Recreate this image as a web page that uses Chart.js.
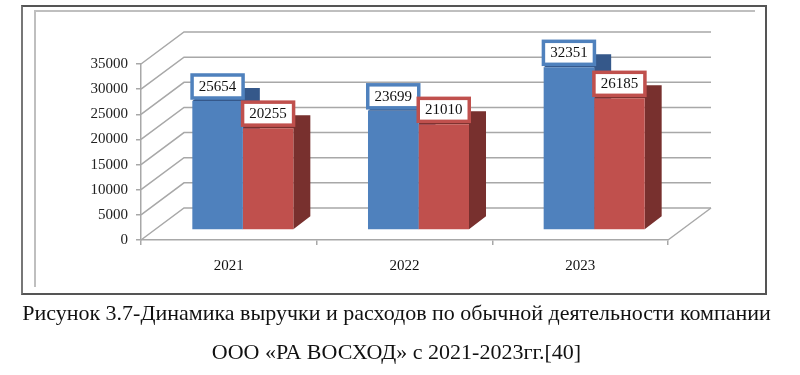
<!DOCTYPE html>
<html lang="ru">
<head>
<meta charset="utf-8">
<title>Рисунок 3.7</title>
<script src="https://cdn.jsdelivr.net/npm/chart.js@4"></script>
<style>
    html, body { margin: 0; padding: 0; background: #fff; }
    #wrap { position: relative; width: 800px; height: 375px; overflow: hidden; }
    #wrap canvas { position: absolute; left: 0; top: 0; }
    #outerFrame { position: absolute; left: 21px; top: 5px; width: 742px; height: 286px; border: 2px solid #555; border-left-color: #777; box-sizing: content-box; }
    #innerFrame { position: absolute; left: 34px; top: 10px; width: 719px; height: 275px; border-top: 2px solid #bfbfbf; border-left: 2px solid #bfbfbf; }
    .caption { position: absolute; left: 0; width: 793px; text-align: center; font-family: "Liberation Serif", serif; font-size: 22px; color: #111; white-space: nowrap; }
</style>
</head>
<body>
<div id="wrap">
    <div id="outerFrame"></div>
    <div id="innerFrame"></div>
    <canvas id="chart" width="800" height="375"></canvas>
    <div class="caption" style="top:300px">Рисунок 3.7-Динамика выручки и расходов по обычной деятельности компании</div>
    <div class="caption" style="top:339px">ООО «РА ВОСХОД» с 2021-2023гг.[40]</div>
</div>
<script>
    const years = ['2021', '2022', '2023'];
    const revenue = [25654, 23699, 32351];
    const expenses = [20255, 21010, 26185];
    const yMax = 35000;
    const yStep = 5000;

    const blue = '#4f81bd';
    const red = '#c0504d';
    const blueDark = '#35588a';
    const redDark = '#78302e';
    const wallColor = '#a8a8a8';
    const textFont = "'Liberation Serif', serif";

    // fake 3D: back wall offset and bar depth, in pixels
    const wallDx = 43, wallDy = -32;
    const barShiftX = 14, barShiftY = -10;
    const depthDx = 17, depthDy = -13;

    const fake3d = {
        id: 'fake3d',
        beforeDatasetsDraw(chart) {
            const { ctx, chartArea: area, scales } = chart;
            // walls and floor
            ctx.save();
            ctx.strokeStyle = wallColor;
            ctx.lineWidth = 1.5;
            scales.y.ticks.forEach(t => {
                const y = scales.y.getPixelForValue(t.value);
                ctx.beginPath();
                ctx.moveTo(area.left, y);
                ctx.lineTo(area.left + wallDx, y + wallDy);
                ctx.lineTo(area.right + wallDx, y + wallDy);
                ctx.stroke();
            });
            ctx.beginPath();
            ctx.moveTo(area.right, area.bottom);
            ctx.lineTo(area.right + wallDx, area.bottom + wallDy);
            ctx.stroke();
            ctx.restore();

            // side and top faces, then the front faces get shifted by the library draw
            ctx.save();
            ctx.translate(barShiftX, barShiftY);
            [blueDark, redDark].forEach((shade, i) => {
                chart.getDatasetMeta(i).data.forEach(bar => {
                    const p = bar.getProps(['x', 'y', 'base', 'width']);
                    const l = p.x - p.width / 2, r = p.x + p.width / 2;
                    ctx.fillStyle = shade;
                    ctx.beginPath();
                    ctx.moveTo(l, p.y);
                    ctx.lineTo(l + depthDx, p.y + depthDy);
                    ctx.lineTo(r + depthDx, p.y + depthDy);
                    ctx.lineTo(r + depthDx, p.base + depthDy);
                    ctx.lineTo(r, p.base);
                    ctx.lineTo(r, p.y);
                    ctx.closePath();
                    ctx.fill();
                });
            });
            ctx.restore();

            ctx.save();
            ctx.translate(barShiftX, barShiftY);
        },
        afterDatasetsDraw(chart) {
            const { ctx } = chart;
            ctx.restore();

            // value boxes
            ctx.save();
            ctx.font = '15px ' + textFont;
            ctx.textAlign = 'center';
            ctx.textBaseline = 'middle';
            [blue, red].forEach((color, i) => {
                const values = chart.data.datasets[i].data;
                chart.getDatasetMeta(i).data.forEach((bar, j) => {
                    const p = bar.getProps(['x', 'y']);
                    const cx = p.x + barShiftX, bottom = p.y + barShiftY - 2;
                    ctx.fillStyle = '#fff';
                    ctx.strokeStyle = color;
                    ctx.lineWidth = 3.5;
                    ctx.fillRect(cx - 25.5, bottom - 24, 51, 23);
                    ctx.strokeRect(cx - 25.5, bottom - 24, 51, 23);
                    ctx.fillStyle = '#111';
                    ctx.fillText(String(values[j]), cx, bottom - 12);
                });
            });
            ctx.restore();
        }
    };

    new Chart(document.getElementById('chart'), {
        type: 'bar',
        data: {
            labels: years,
            datasets: [
                { label: 'Выручка', data: revenue, backgroundColor: blue, borderWidth: 0, clip: false },
                { label: 'Расходы', data: expenses, backgroundColor: red, borderWidth: 0, clip: false }
            ]
        },
        plugins: [fake3d],
        options: {
            responsive: false,
            animation: false,
            categoryPercentage: 0.575,
            barPercentage: 1,
            layout: { padding: { left: 0, top: 64, right: 132, bottom: 100 } },
            plugins: { legend: { display: false }, tooltip: { enabled: false } },
            scales: {
                y: {
                    min: 0,
                    max: yMax,
                    afterFit(scale) { scale.width = 141; },
                    ticks: {
                        stepSize: yStep,
                        padding: 8,
                        color: '#222',
                        font: { family: textFont, size: 15 },
                        callback: value => String(value)
                    },
                    grid: { drawOnChartArea: false, color: wallColor, lineWidth: 1.5, tickLength: 5 },
                    border: { color: wallColor, width: 1.5 }
                },
                x: {
                    afterFit(scale) { scale.height = 35; },
                    ticks: { padding: 12, color: '#111', font: { family: textFont, size: 15 } },
                    grid: { drawOnChartArea: false, color: wallColor, lineWidth: 1.5, tickLength: 5 },
                    border: { color: wallColor, width: 1.5 }
                }
            }
        }
    });
</script>
</body>
</html>
